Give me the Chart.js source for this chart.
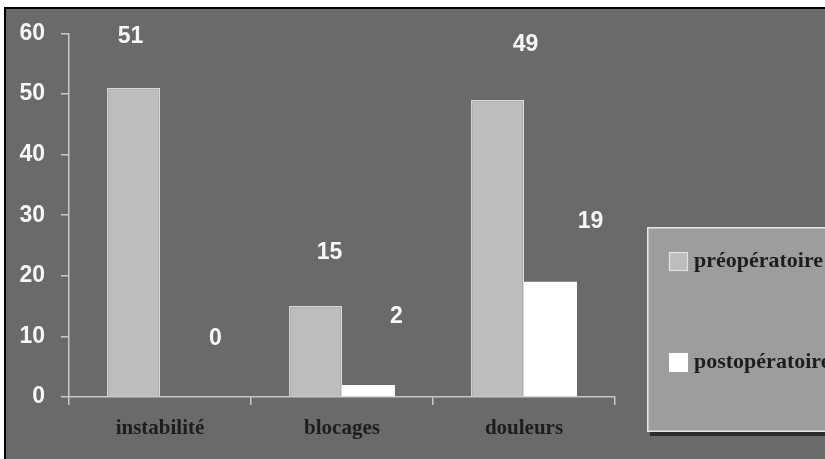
<!DOCTYPE html>
<html>
<head>
<meta charset="utf-8">
<script src="https://cdn.jsdelivr.net/npm/chart.js@4/dist/chart.umd.min.js"></script>
<style>
  html, body { margin: 0; padding: 0; background: #ffffff; }
  canvas { display: block; }
</style>
</head>
<body>
<canvas id="chart" width="825" height="459"></canvas>
<script>
// Patients reporting each symptom, before and after surgery
const categories = ['instabilité', 'blocages', 'douleurs'];
const seriesNames = ['préopératoire', 'postopératoire'];
const preop = [51, 15, 49];
const postop = [0, 2, 19];
const yMin = 0;
const yMax = 60;
const yStep = 10;

// Styling
const PANEL_BG = '#6a6a6a';
const AXIS_COLOR = '#c9c9c9';
const PREOP_FILL = '#bdbdbd';
const PREOP_EDGE = '#dadada';
const POSTOP_FILL = '#ffffff';
const LEGEND_BG = '#9d9d9d';
const DARK_TEXT = '#1d1d1d';
const SERIF = '"Liberation Serif", "Times New Roman", serif';
const SANS = '"Liberation Sans", Arial, sans-serif';

// Value labels float above and to the right of their bars; [dx, dy] per bar
const valueLabelShift = [
  [[-3, 51], [14, 53], [28, 55]],
  [[29, 58], [28, 68], [40, 60]]
];

const framePlugin = {
  id: 'frame',
  beforeDraw(chart) {
    const ctx = chart.ctx;
    const w = chart.width, h = chart.height;
    ctx.save();
    ctx.fillStyle = '#ffffff';
    ctx.fillRect(0, 0, w, h);
    ctx.fillStyle = PANEL_BG;
    ctx.fillRect(4, 7, w - 4, h - 7);
    ctx.strokeStyle = '#000000';
    ctx.lineWidth = 2;
    ctx.beginPath();
    ctx.moveTo(5, h);
    ctx.lineTo(5, 8);
    ctx.lineTo(w, 8);
    ctx.stroke();
    ctx.restore();
  }
};

const valueLabelPlugin = {
  id: 'valueLabels',
  afterDatasetsDraw(chart) {
    const ctx = chart.ctx;
    ctx.save();
    ctx.fillStyle = '#f6f6f6';
    ctx.font = 'bold 23px ' + SANS;
    ctx.textAlign = 'center';
    ctx.textBaseline = 'middle';
    chart.data.datasets.forEach((ds, di) => {
      const meta = chart.getDatasetMeta(di);
      meta.data.forEach((bar, i) => {
        const [dx, dy] = valueLabelShift[di][i];
        ctx.fillText(String(ds.data[i]), bar.x + dx, bar.y - dy);
      });
    });
    ctx.restore();
  }
};

const legendBoxPlugin = {
  id: 'legendBox',
  afterDraw(chart) {
    const ctx = chart.ctx;
    const x = 647, y = 227, w = 200, h = 205;
    ctx.save();
    // drop shadow
    ctx.fillStyle = '#2b2b2b';
    ctx.fillRect(x + 3, y + h, w, 4);
    // panel
    ctx.fillStyle = LEGEND_BG;
    ctx.fillRect(x, y, w, h);
    ctx.strokeStyle = '#e6e6e6';
    ctx.lineWidth = 1.5;
    ctx.strokeRect(x + 0.75, y + 0.75, w, h - 1.5);
    // entries
    const rows = [261, 362];
    ctx.font = 'bold 22px ' + SERIF;
    ctx.textBaseline = 'alphabetic';
    ctx.textAlign = 'left';
    chart.data.datasets.forEach((ds, di) => {
      const cy = rows[di];
      ctx.fillStyle = ds.backgroundColor;
      ctx.fillRect(669, cy - 9, 19, 19);
      if (di === 0) {
        ctx.strokeStyle = '#e2e2e2';
        ctx.lineWidth = 1.2;
        ctx.strokeRect(669.5, cy - 8.5, 18, 18);
      }
      ctx.fillStyle = DARK_TEXT;
      ctx.fillText(ds.label, 694, cy + 6);
    });
    ctx.restore();
  }
};

new Chart(document.getElementById('chart'), {
  type: 'bar',
  data: {
    labels: categories,
    datasets: [
      {
        label: seriesNames[0],
        data: preop,
        backgroundColor: PREOP_FILL,
        borderColor: PREOP_EDGE,
        borderWidth: 1.5,
        categoryPercentage: 0.582,
        barPercentage: 1
      },
      {
        label: seriesNames[1],
        data: postop,
        backgroundColor: POSTOP_FILL,
        borderColor: POSTOP_FILL,
        borderWidth: 0,
        categoryPercentage: 0.582,
        barPercentage: 1
      }
    ]
  },
  options: {
    responsive: false,
    animation: false,
    devicePixelRatio: 1,
    layout: { padding: { left: 0, top: 33.4, right: 210, bottom: 10 } },
    plugins: {
      legend: { display: false },
      tooltip: { enabled: false },
      title: { display: false }
    },
    scales: {
      x: {
        grid: {
          display: true,
          offset: true,
          drawOnChartArea: false,
          drawTicks: true,
          tickLength: 8,
          color: AXIS_COLOR,
          lineWidth: 1.5
        },
        border: { display: true, color: AXIS_COLOR, width: 1.5 },
        ticks: {
          color: DARK_TEXT,
          font: { family: SERIF, size: 21, weight: 'bold' },
          padding: 11
        },
        afterFit(scale) { scale.height = 52; }
      },
      y: {
        min: yMin,
        max: yMax,
        grid: {
          display: true,
          drawOnChartArea: false,
          drawTicks: true,
          tickLength: 8,
          color: AXIS_COLOR,
          lineWidth: 1.5
        },
        border: { display: true, color: AXIS_COLOR, width: 1.5 },
        ticks: {
          stepSize: yStep,
          color: '#f6f6f6',
          font: { family: SANS, size: 23, weight: 'bold' },
          padding: 16
        },
        afterFit(scale) { scale.width = 69; }
      }
    }
  },
  plugins: [framePlugin, valueLabelPlugin, legendBoxPlugin]
});
</script>
</body>
</html>
